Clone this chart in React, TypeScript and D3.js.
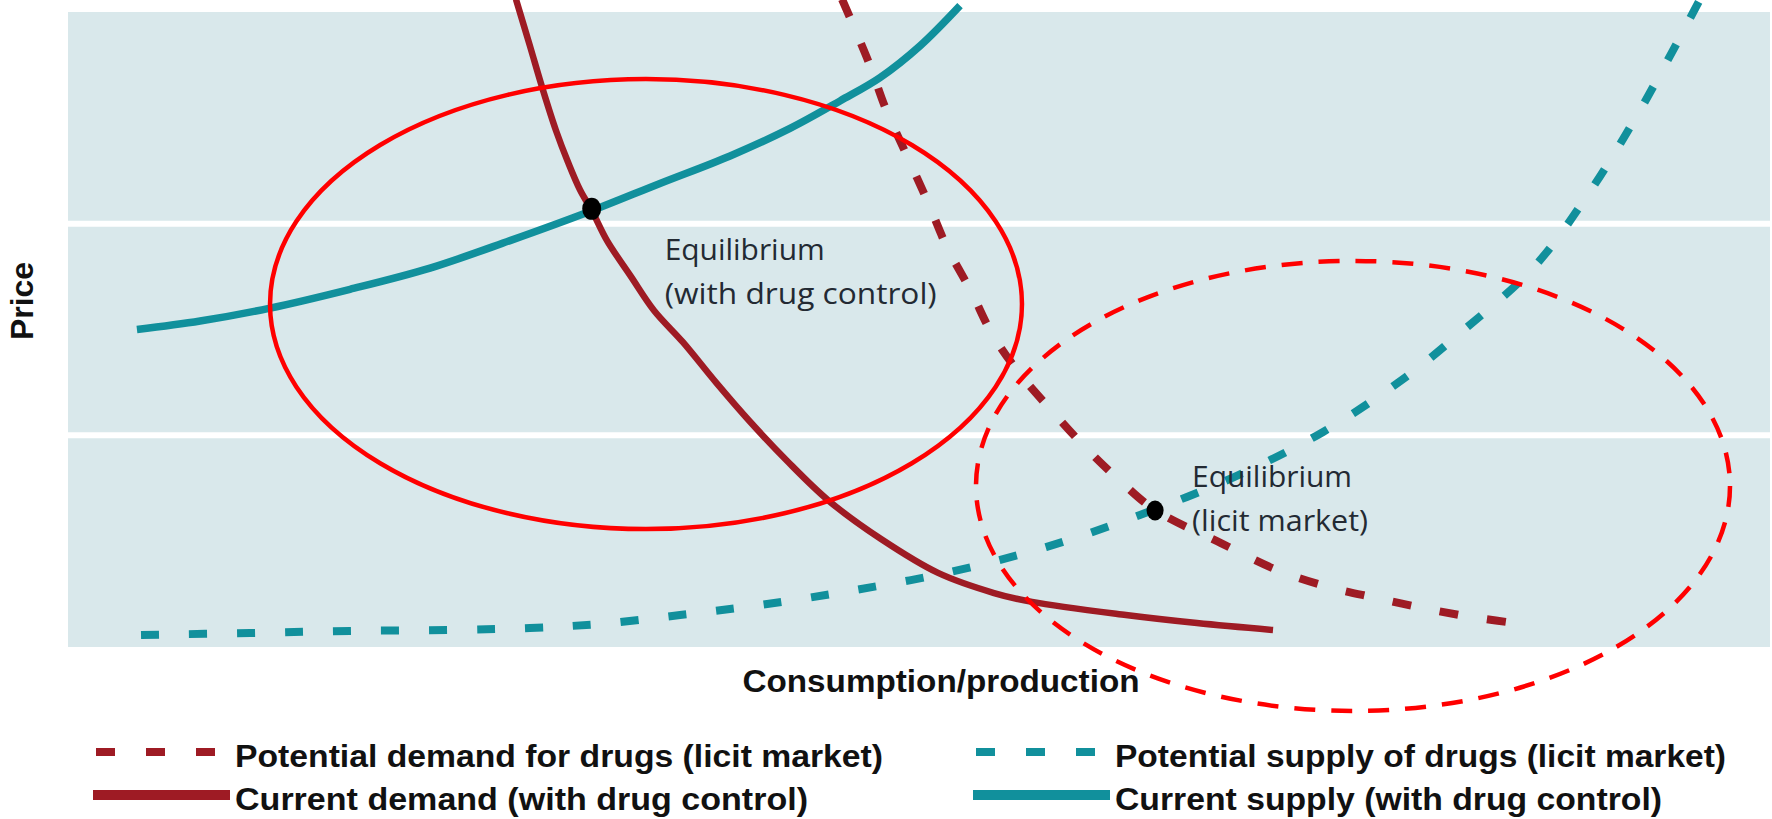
import React, { useEffect, useRef } from "react";
import * as d3 from "d3";

const WIDTH = 1772;
const HEIGHT = 819;

// x = consumption/production (0-100), y = price (0-3)
const currentSupply: [number, number][] = [
  [4.05, 1.5], [7.76, 1.54], [11.81, 1.6], [16.57, 1.69], [21.27, 1.79],
  [25.97, 1.92], [30.73, 2.06], [34.78, 2.19], [38.9, 2.32], [42.42, 2.45],
  [45.36, 2.58], [47.71, 2.69], [50.06, 2.84], [52.41, 3.03],
];

const currentDemand: [number, number][] = [
  [26.32, 3.06], [27.14, 2.84], [27.91, 2.63], [28.67, 2.44], [29.38, 2.29],
  [30.08, 2.16], [30.79, 2.06], [31.67, 1.92], [33.08, 1.75], [34.43, 1.59],
  [36.13, 1.44], [38.07, 1.25], [40.01, 1.07], [42.24, 0.88], [44.71, 0.69],
  [47.77, 0.51], [51.12, 0.35], [54.41, 0.255], [56.64, 0.213], [62.16, 0.151],
  [66.33, 0.113], [70.8, 0.08],
];

const potentialDemand: [number, number][] = [
  [45.48, 3.06], [47.06, 2.76], [48.06, 2.54], [49.24, 2.33], [50.53, 2.1],
  [51.64, 1.89], [53.06, 1.68], [54.29, 1.48], [55.93, 1.29], [57.87, 1.11],
  [59.81, 0.94], [61.75, 0.79], [63.87, 0.647], [67.74, 0.491], [71.03, 0.364],
  [74.09, 0.283], [76.91, 0.231], [79.61, 0.184], [82.43, 0.142], [85.9, 0.104],
];

const potentialSupply: [number, number][] = [
  [4.29, 0.057], [10.69, 0.066], [16.57, 0.076], [22.44, 0.08], [27.14, 0.09],
  [31.26, 0.109], [35.96, 0.151], [40.66, 0.198], [45.95, 0.265], [51.82, 0.354],
  [57.46, 0.472], [62.98, 0.624], [68.51, 0.803], [73.74, 1.016], [78.61, 1.276],
  [81.79, 1.483], [86.13, 1.795], [89.48, 2.159], [92.54, 2.561], [95.89, 3.06],
];

const priceGrid = [1, 2];

const equilibriumPoints = [
  { x: 30.77, y: 2.07, lines: ["Equilibrium", "(with drug control)"] },
  { x: 63.87, y: 0.645, lines: ["Equilibrium", "(licit market)"] },
];

const highlightEllipses = [
  { cx: 33.96, cy: 1.62, rx: 22.09, ry: 1.063, dashed: false },
  { cx: 75.5, cy: 0.761, rx: 22.15, ry: 1.063, dashed: true },
];

const legendLabels = [
  "Potential demand for drugs (licit market)",
  "Potential supply of drugs (licit market)",
  "Current demand (with drug control)",
  "Current supply (with drug control)",
];

const xTitle = "Consumption/production";
const yTitle = "Price";

const RED = "#9e1b24";
const TEAL = "#11909c";
const PANEL = "#d9e8eb";

export default function App() {
  const svgRef = useRef<SVGSVGElement | null>(null);

  useEffect(() => {
    document.body.style.margin = "0";
    document.body.style.overflow = "hidden";

    const svg = d3.select(svgRef.current);
    svg.selectAll("*").remove();

    const margin = { top: 12, right: 2, bottom: 172, left: 68 };
    const x = d3.scaleLinear().domain([0, 100]).range([margin.left, WIDTH - margin.right]);
    const y = d3.scaleLinear().domain([0, 3]).range([HEIGHT - margin.bottom, margin.top]);

    // background panel
    svg
      .append("rect")
      .attr("x", x(0))
      .attr("y", y(3))
      .attr("width", x(100) - x(0))
      .attr("height", y(0) - y(3))
      .attr("fill", PANEL);

    // white price gridlines
    svg
      .append("g")
      .selectAll("line")
      .data(priceGrid)
      .join("line")
      .attr("x1", x(0))
      .attr("x2", x(100))
      .attr("y1", (d) => y(d))
      .attr("y2", (d) => y(d))
      .attr("stroke", "#fff")
      .attr("stroke-width", 6);

    const line = d3
      .line<[number, number]>()
      .x((d) => x(d[0]))
      .y((d) => y(d[1]))
      .curve(d3.curveCatmullRom.alpha(0.5));

    const curves = [
      { data: potentialSupply, color: TEAL, width: 8, dash: "18,30" },
      { data: potentialDemand, color: RED, width: 8, dash: "19,29" },
      { data: currentSupply, color: TEAL, width: 7.5, dash: null },
      { data: currentDemand, color: RED, width: 6.5, dash: null },
    ];

    svg
      .append("g")
      .selectAll("path")
      .data(curves)
      .join("path")
      .attr("d", (d) => line(d.data))
      .attr("fill", "none")
      .attr("stroke", (d) => d.color)
      .attr("stroke-width", (d) => d.width)
      .attr("stroke-dasharray", (d) => d.dash);

    // red highlight ellipses
    svg
      .append("g")
      .selectAll("ellipse")
      .data(highlightEllipses)
      .join("ellipse")
      .attr("cx", (d) => x(d.cx))
      .attr("cy", (d) => y(d.cy))
      .attr("rx", (d) => x(d.rx) - x(0))
      .attr("ry", (d) => y(0) - y(d.ry))
      .attr("fill", "none")
      .attr("stroke", "#ff0000")
      .attr("stroke-width", 4.5)
      .attr("stroke-dasharray", (d) => (d.dashed ? "21,16" : null));

    // equilibrium dots
    svg
      .append("g")
      .selectAll("ellipse")
      .data(equilibriumPoints)
      .join("ellipse")
      .attr("cx", (d) => x(d.x))
      .attr("cy", (d) => y(d.y))
      .attr("rx", (d, i) => (i === 0 ? 9.5 : 8.5))
      .attr("ry", (d, i) => (i === 0 ? 11 : 10))
      .attr("fill", "#000");

    // equilibrium labels (offset from their dot)
    const labelOffsets = [
      { dx: 73, dy: 51, widths: [160, 272] },
      { dx: 37, dy: -23, widths: [160, 176] },
    ];
    equilibriumPoints.forEach((p, i) => {
      const off = labelOffsets[i];
      p.lines.forEach((txt, j) => {
        svg
          .append("text")
          .attr("x", x(p.x) + off.dx)
          .attr("y", y(p.y) + off.dy + j * 44)
          .attr("font-family", "'Open Sans', 'Noto Sans', sans-serif")
          .attr("font-size", 30)
          .attr("fill", "#232a33")
          .attr("textLength", off.widths[j])
          .attr("lengthAdjust", "spacingAndGlyphs")
          .text(txt);
      });
    });

    const boldFont = "'Liberation Sans', Arial, sans-serif";

    // axis titles
    svg
      .append("text")
      .attr("transform", "translate(33,301) rotate(-90)")
      .attr("text-anchor", "middle")
      .attr("font-family", boldFont)
      .attr("font-weight", 700)
      .attr("font-size", 31)
      .attr("fill", "#111")
      .attr("textLength", 78)
      .attr("lengthAdjust", "spacingAndGlyphs")
      .text(yTitle);

    svg
      .append("text")
      .attr("x", 941)
      .attr("y", 692)
      .attr("text-anchor", "middle")
      .attr("font-family", boldFont)
      .attr("font-weight", 700)
      .attr("font-size", 32)
      .attr("fill", "#111")
      .attr("textLength", 397)
      .attr("lengthAdjust", "spacingAndGlyphs")
      .text(xTitle);

    // legend: 2 columns x 2 rows
    const legendCols = [93, 973];
    const legendRows = [767, 810];
    const legendSpec = [
      { col: 0, row: 0, color: RED, dashed: true, width: 648 },
      { col: 1, row: 0, color: TEAL, dashed: true, width: 611 },
      { col: 0, row: 1, color: RED, dashed: false, width: 573 },
      { col: 1, row: 1, color: TEAL, dashed: false, width: 547 },
    ];

    const legend = svg.append("g");
    legendLabels.forEach((label, i) => {
      const s = legendSpec[i];
      const lx = legendCols[s.col];
      const ly = legendRows[s.row];
      legend
        .append("line")
        .attr("x1", s.dashed ? lx + 3 : lx)
        .attr("x2", s.dashed ? lx + 122 : lx + 137)
        .attr("y1", ly - 15)
        .attr("y2", ly - 15)
        .attr("stroke", s.color)
        .attr("stroke-width", s.dashed ? 8 : 10)
        .attr("stroke-dasharray", s.dashed ? "19,31" : null);
      legend
        .append("text")
        .attr("x", lx + 142)
        .attr("y", ly)
        .attr("font-family", boldFont)
        .attr("font-weight", 700)
        .attr("font-size", 32)
        .attr("fill", "#111")
        .attr("textLength", s.width)
        .attr("lengthAdjust", "spacingAndGlyphs")
        .text(label);
    });
  }, []);

  return (
    <div style={{ width: WIDTH, height: HEIGHT }}>
      <svg
        ref={svgRef}
        width={WIDTH}
        height={HEIGHT}
        style={{ position: "absolute", left: 0, top: 0, background: "#fff" }}
      />
    </div>
  );
}
